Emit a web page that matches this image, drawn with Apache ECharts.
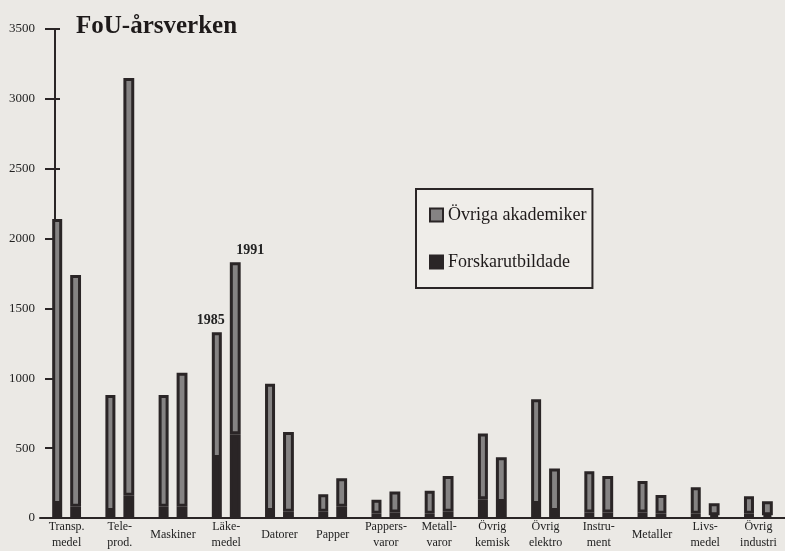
<!DOCTYPE html>
<html>
<head>
<meta charset="utf-8">
<script src="https://cdn.jsdelivr.net/npm/echarts@6/dist/echarts.min.js"></script>
<style>
  html, body { margin: 0; padding: 0; background: #ebe9e5; }
  #chart { width: 785px; height: 551px; }
</style>
</head>
<body>
<div id="chart"></div>
<script>
// branscher
const categories = ['Transp.\nmedel', 'Tele-\nprod.', 'Maskiner', 'Läke-\nmedel', 'Datorer', 'Papper',
  'Pappers-\nvaror', 'Metall-\nvaror', 'Övrig\nkemisk', 'Övrig\nelektro', 'Instru-\nment', 'Metaller',
  'Livs-\nmedel', 'Övrig\nindustri']

// FoU-årsverken 1985
const forskare1985 = [100, 50, 80, 430, 50, 45, 30, 30, 135, 100, 40, 40, 30, 30]
const ovriga1985 = [2040, 830, 800, 900, 910, 125, 100, 165, 470, 750, 295, 225, 190, 125]
// FoU-årsverken 1991
const forskare1991 = [80, 160, 80, 600, 45, 80, 40, 45, 115, 50, 40, 30, 20, 20]
const ovriga1991 = [1660, 2990, 960, 1230, 570, 205, 150, 255, 320, 305, 260, 135, 85, 100]

const yTicks = [0, 500, 1000, 1500, 2000, 2500, 3000, 3500]

const dark = '#2a2526'
const grey = '#858383'
const serif = 'Liberation Serif'

// år-etikett ovanför läkemedelsstapeln
function withYearLabel(values, year, dx) {
  return values.map((v, i) => {
    if (i !== 3) return v
    return {
      value: v,
      label: {
        show: true, position: 'top', distance: 5, offset: [dx, 0],
        formatter: year, fontFamily: serif, fontWeight: 'bold', fontSize: 14, color: '#222'
      }
    }
  })
}

const chart = echarts.init(document.getElementById('chart'))
chart.setOption({
  backgroundColor: '#ebe9e5',
  animation: false,
  title: {
    text: 'FoU-årsverken',
    left: 71,
    top: 9,
    textStyle: { fontFamily: serif, fontWeight: 'bold', fontSize: 25, color: '#1e1a1a' }
  },
  legend: {
    data: ['Övriga akademiker', 'Forskarutbildade'],
    orient: 'vertical',
    left: 416,
    top: 189,
    padding: [17, 6, 17, 13],
    itemGap: 29,
    itemWidth: 13,
    itemHeight: 13,
    icon: 'rect',
    borderColor: dark,
    borderWidth: 2,
    backgroundColor: '#efede9',
    textStyle: { fontFamily: serif, fontSize: 18, color: '#1e1a1a' }
  },
  grid: { left: 40, right: -5, top: 29, bottom: 32 },
  xAxis: {
    type: 'category',
    data: categories,
    axisLine: { lineStyle: { color: dark, width: 2 } },
    axisTick: { show: false },
    axisLabel: {
      interval: 0, margin: 17, verticalAlign: 'middle', lineHeight: 16,
      fontFamily: serif, fontSize: 12, color: '#222'
    }
  },
  yAxis: [{
    type: 'value',
    min: 0, max: 3500, interval: 500,
    offset: -15,
    axisLine: { show: true, lineStyle: { color: dark, width: 2 } },
    axisTick: { show: true, length: 10, lineStyle: { color: dark, width: 2 } },
    axisLabel: { margin: 20, fontFamily: serif, fontSize: 13, color: '#222',
      formatter: v => yTicks.includes(v) ? String(v) : '' },
    splitLine: { show: false }
  }, {
    type: 'value',
    position: 'left',
    min: 0, max: 3500, interval: 500,
    offset: -15,
    axisLine: { show: false },
    axisTick: { show: true, inside: true, length: 5, lineStyle: { color: dark, width: 2 } },
    axisLabel: { show: false },
    splitLine: { show: false }
  }],
  series: [
    { name: 'Forskarutbildade', type: 'bar', stack: '1985', data: forskare1985,
      barWidth: 10, barGap: '80%',
      itemStyle: { color: dark, borderColor: dark, borderWidth: 3 } },
    { name: 'Övriga akademiker', type: 'bar', stack: '1985', data: withYearLabel(ovriga1985, '1985', -6),
      itemStyle: { color: grey, borderColor: dark, borderWidth: 3 } },
    { name: 'Forskarutbildade', type: 'bar', stack: '1991', data: forskare1991,
      itemStyle: { color: dark, borderColor: dark, borderWidth: 3 } },
    { name: 'Övriga akademiker', type: 'bar', stack: '1991', data: withYearLabel(ovriga1991, '1991', 15),
      itemStyle: { color: grey, borderColor: dark, borderWidth: 3 } }
  ]
})
</script>
</body>
</html>
